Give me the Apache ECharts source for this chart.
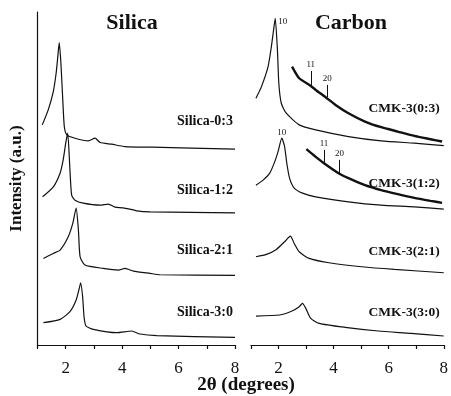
<!DOCTYPE html>
<html><head><meta charset="utf-8">
<script src="https://cdn.jsdelivr.net/npm/echarts@6/dist/echarts.min.js"></script>
<style>html,body{margin:0;padding:0;background:#fff}#c{width:451px;height:396px}</style>
</head><body><div id="c"></div>
<script>
// ---- data ----
const xTickLabels = [2, 4, 6, 8];

const silica03X = [1.17, 1.38, 1.56, 1.66, 1.72, 1.77, 1.83, 1.89, 1.95, 2.04, 2.33, 2.80, 3.04, 3.22, 3.63, 4.10, 5.05, 8.0];
const silica03Y = [66.1, 70.6, 76.1, 81.6, 86.6, 90.8, 84.6, 74.6, 65.6, 63.1, 62.1, 61.3, 62.1, 60.8, 60.3, 59.6, 59.4, 58.8];

const silica12X = [1.18, 1.56, 1.80, 1.91, 2.00, 2.07, 2.15, 2.21, 2.33, 2.62, 3.22, 3.51, 3.75, 4.04, 4.52, 4.99, 8.0];
const silica12Y = [44.5, 47.5, 51.6, 55.6, 60.6, 63.6, 52.6, 45.0, 43.5, 42.6, 42.0, 42.3, 41.4, 41.2, 40.3, 40.0, 39.7];

const silica21X = [1.21, 1.56, 1.80, 2.09, 2.25, 2.37, 2.45, 2.51, 2.68, 3.33, 3.87, 4.10, 4.40, 4.99, 5.34, 8.0];
const silica21Y = [26.0, 27.5, 28.5, 32.5, 36.5, 41.1, 34.5, 26.5, 24.0, 23.0, 22.5, 23.0, 22.2, 21.5, 21.1, 20.9];

const silica30X = [1.21, 1.80, 2.15, 2.37, 2.48, 2.53, 2.60, 2.65, 2.72, 2.98, 3.81, 4.34, 4.63, 5.23, 8.0];
const silica30Y = [6.7, 7.7, 10.0, 13.5, 17.0, 18.7, 14.5, 8.5, 5.7, 4.7, 3.7, 4.2, 3.3, 2.8, 2.3];

const cmk03X = [1.18, 1.38, 1.62, 1.74, 1.82, 1.88, 1.96, 2.01, 2.10, 2.28, 2.75, 3.35, 4.54, 5.73, 6.93, 8.0];
const cmk03Y = [74.1, 77.6, 83.6, 89.6, 94.6, 98.1, 88.6, 78.6, 72.6, 69.6, 66.1, 64.6, 62.6, 61.3, 60.6, 59.9];
const cmk03ZoomX = [2.49, 2.75, 3.17, 3.35, 3.71, 4.07, 4.54, 5.14, 5.73, 6.33, 6.93, 7.52, 7.94];
const cmk03ZoomY = [83.6, 80.1, 77.8, 76.6, 74.4, 72.1, 69.6, 67.1, 65.4, 64.1, 62.8, 61.8, 61.1];

const cmk12X = [1.18, 1.44, 1.68, 1.86, 1.98, 2.12, 2.22, 2.30, 2.40, 2.57, 2.87, 3.35, 4.54, 5.73, 6.93, 8.0];
const cmk12Y = [48.0, 49.5, 51.6, 55.0, 58.0, 62.1, 59.6, 54.6, 50.1, 47.1, 45.6, 44.5, 43.0, 42.0, 41.5, 40.8];
const cmk12ZoomX = [3.01, 3.35, 3.65, 4.18, 4.54, 5.14, 5.73, 6.33, 6.93, 7.52, 7.94];
const cmk12ZoomY = [58.8, 56.5, 54.6, 51.6, 50.1, 48.0, 46.5, 45.3, 44.2, 43.3, 42.7];

const cmk21X = [1.18, 1.56, 1.92, 2.22, 2.43, 2.57, 2.75, 3.11, 3.83, 5.02, 6.21, 8.0];
const cmk21Y = [26.5, 27.2, 28.7, 31.0, 32.7, 30.5, 28.0, 26.0, 24.7, 23.5, 22.7, 21.7];

const cmk30X = [1.18, 2.04, 2.51, 2.75, 2.87, 2.99, 3.17, 3.47, 4.42, 5.62, 6.81, 8.0];
const cmk30Y = [8.7, 9.0, 10.3, 11.5, 12.5, 11.0, 8.0, 6.5, 5.3, 4.2, 3.5, 2.7];

// curve names and their label anchors (x, y in data units)
const silicaNames = ['Silica-0:3', 'Silica-1:2', 'Silica-2:1', 'Silica-3:0'];
const silicaLabelY = [67.1, 46.5, 28.5, 9.7];
const carbonNames = ['CMK-3(0:3)', 'CMK-3(1:2)', 'CMK-3(2:1)', 'CMK-3(3:0)'];
const carbonLabelY = [71.1, 48.6, 28.0, 9.7];

// reflection arrows: [label, x, top, bottom]
const arrows03 = [['11', 3.17, 82.3, 77.4], ['20', 3.77, 78.1, 74.4]];
const arrows12 = [['11', 3.65, 58.6, 54.6], ['20', 4.21, 55.6, 51.6]];
const peak10 = [[1.88, 98.1], [2.12, 62.1]];

// ---- chart ----
const FONT = '"Liberation Serif", "Times New Roman", serif';
const INK = '#111';
const pairs = (xs, ys) => xs.map((x, i) => [x, ys[i]]);

function curve(xs, ys, g, width, extra) {
  return Object.assign({
    type: 'line', xAxisIndex: g, yAxisIndex: g, data: pairs(xs, ys),
    symbol: 'none', showSymbol: false, smooth: 0.2, silent: true, animation: false,
    lineStyle: { color: INK, width: width }, z: 3
  }, extra || {});
}
function nameMark(name, x, y, dist, size) {
  return {
    markPoint: {
      symbol: 'circle', symbolSize: 0, silent: true, animation: false,
      label: { show: true, position: 'left', distance: dist, formatter: p => p.name,
        color: INK, fontFamily: FONT, fontWeight: 'bold', fontSize: size },
      data: [{ name: name, coord: [x, y] }]
    }
  };
}
function arrowMarks(list) {
  return {
    markLine: {
      silent: true, animation: false, symbol: ['none', 'arrow'], symbolSize: [0, 5],
      lineStyle: { color: INK, width: 1, type: 'solid' },
      label: { show: true, position: 'start', distance: 2, formatter: p => p.name,
        color: INK, fontFamily: FONT, fontSize: 9 },
      data: list.map(a => [{ name: a[0], coord: [a[1], a[2]] }, { coord: [a[1], a[3]] }])
    }
  };
}
function mergeMarks(a, b) { return Object.assign({}, a, b); }

const xAxisBase = {
  type: 'value', min: 1, max: 8, interval: 1,
  axisLine: { show: true, onZero: false, lineStyle: { color: INK, width: 1.2 } },
  axisTick: { show: true, inside: false, length: 4, lineStyle: { color: INK, width: 1.2 } },
  axisLabel: { formatter: v => xTickLabels.includes(v) ? String(v) : '', color: INK,
    fontFamily: FONT, fontSize: 17, margin: 15 },
  splitLine: { show: false }
};

const option = {
  backgroundColor: '#fff',
  animation: false,
  grid: [
    { left: 37.5, right: 216, top: 12, bottom: 51 },
    { left: 251, right: 4, top: 12, bottom: 51 }
  ],
  xAxis: [Object.assign({ gridIndex: 0 }, xAxisBase), Object.assign({ gridIndex: 1 }, xAxisBase)],
  yAxis: [
    { gridIndex: 0, type: 'value', min: 0, max: 100,
      axisLine: { show: true, lineStyle: { color: INK, width: 1.2 } },
      axisTick: { show: false }, axisLabel: { show: false }, splitLine: { show: false },
      name: 'Intensity (a.u.)', nameLocation: 'middle', nameGap: 12, nameRotate: 90,
      nameTextStyle: { color: INK, fontFamily: FONT, fontWeight: 'bold', fontSize: 17 } },
    { gridIndex: 1, type: 'value', min: 0, max: 100, show: false }
  ],
  graphic: [
    { type: 'text', x: 132, y: 23, silent: true,
      style: { text: 'Silica', textAlign: 'center', textVerticalAlign: 'middle',
        font: 'bold 22px ' + FONT, fill: INK } },
    { type: 'text', x: 351, y: 23, silent: true,
      style: { text: 'Carbon', textAlign: 'center', textVerticalAlign: 'middle',
        font: 'bold 22px ' + FONT, fill: INK } },
    { type: 'text', x: 246, y: 385, silent: true,
      style: { text: '2\u03B8 (degrees)', textAlign: 'center', textVerticalAlign: 'middle',
        font: 'bold 19px ' + FONT, fill: INK } }
  ],
  series: [
    curve(silica03X, silica03Y, 0, 1.2, nameMark(silicaNames[0], 8, silicaLabelY[0], 2, 14)),
    curve(silica12X, silica12Y, 0, 1.2, nameMark(silicaNames[1], 8, silicaLabelY[1], 2, 14)),
    curve(silica21X, silica21Y, 0, 1.2, nameMark(silicaNames[2], 8, silicaLabelY[2], 2, 14)),
    curve(silica30X, silica30Y, 0, 1.2, nameMark(silicaNames[3], 8, silicaLabelY[3], 2, 14)),
    curve(cmk03X, cmk03Y, 1, 1.2, {
      markPoint: { symbol: 'circle', symbolSize: 0, silent: true, animation: false,
        label: { show: true, position: 'right', distance: 3, offset: [0, 3], formatter: '10',
          color: INK, fontFamily: FONT, fontSize: 9 },
        data: [{ coord: peak10[0] }] } }),
    curve(cmk03ZoomX, cmk03ZoomY, 1, 2.4, mergeMarks(nameMark(carbonNames[0], 8, carbonLabelY[0], 4, 13.5), arrowMarks(arrows03))),
    curve(cmk12X, cmk12Y, 1, 1.2, {
      markPoint: { symbol: 'circle', symbolSize: 0, silent: true, animation: false,
        label: { show: true, position: 'top', distance: 1, formatter: '10',
          color: INK, fontFamily: FONT, fontSize: 9 },
        data: [{ coord: peak10[1] }] } }),
    curve(cmk12ZoomX, cmk12ZoomY, 1, 2.4, mergeMarks(nameMark(carbonNames[1], 8, carbonLabelY[1], 4, 13.5), arrowMarks(arrows12))),
    curve(cmk21X, cmk21Y, 1, 1.2, nameMark(carbonNames[2], 8, carbonLabelY[2], 4, 13.5)),
    curve(cmk30X, cmk30Y, 1, 1.2, nameMark(carbonNames[3], 8, carbonLabelY[3], 4, 13.5))
  ]
};
const chart = echarts.init(document.getElementById('c'), null, { renderer: 'canvas' });
chart.setOption(option);
</script>
</body></html>
